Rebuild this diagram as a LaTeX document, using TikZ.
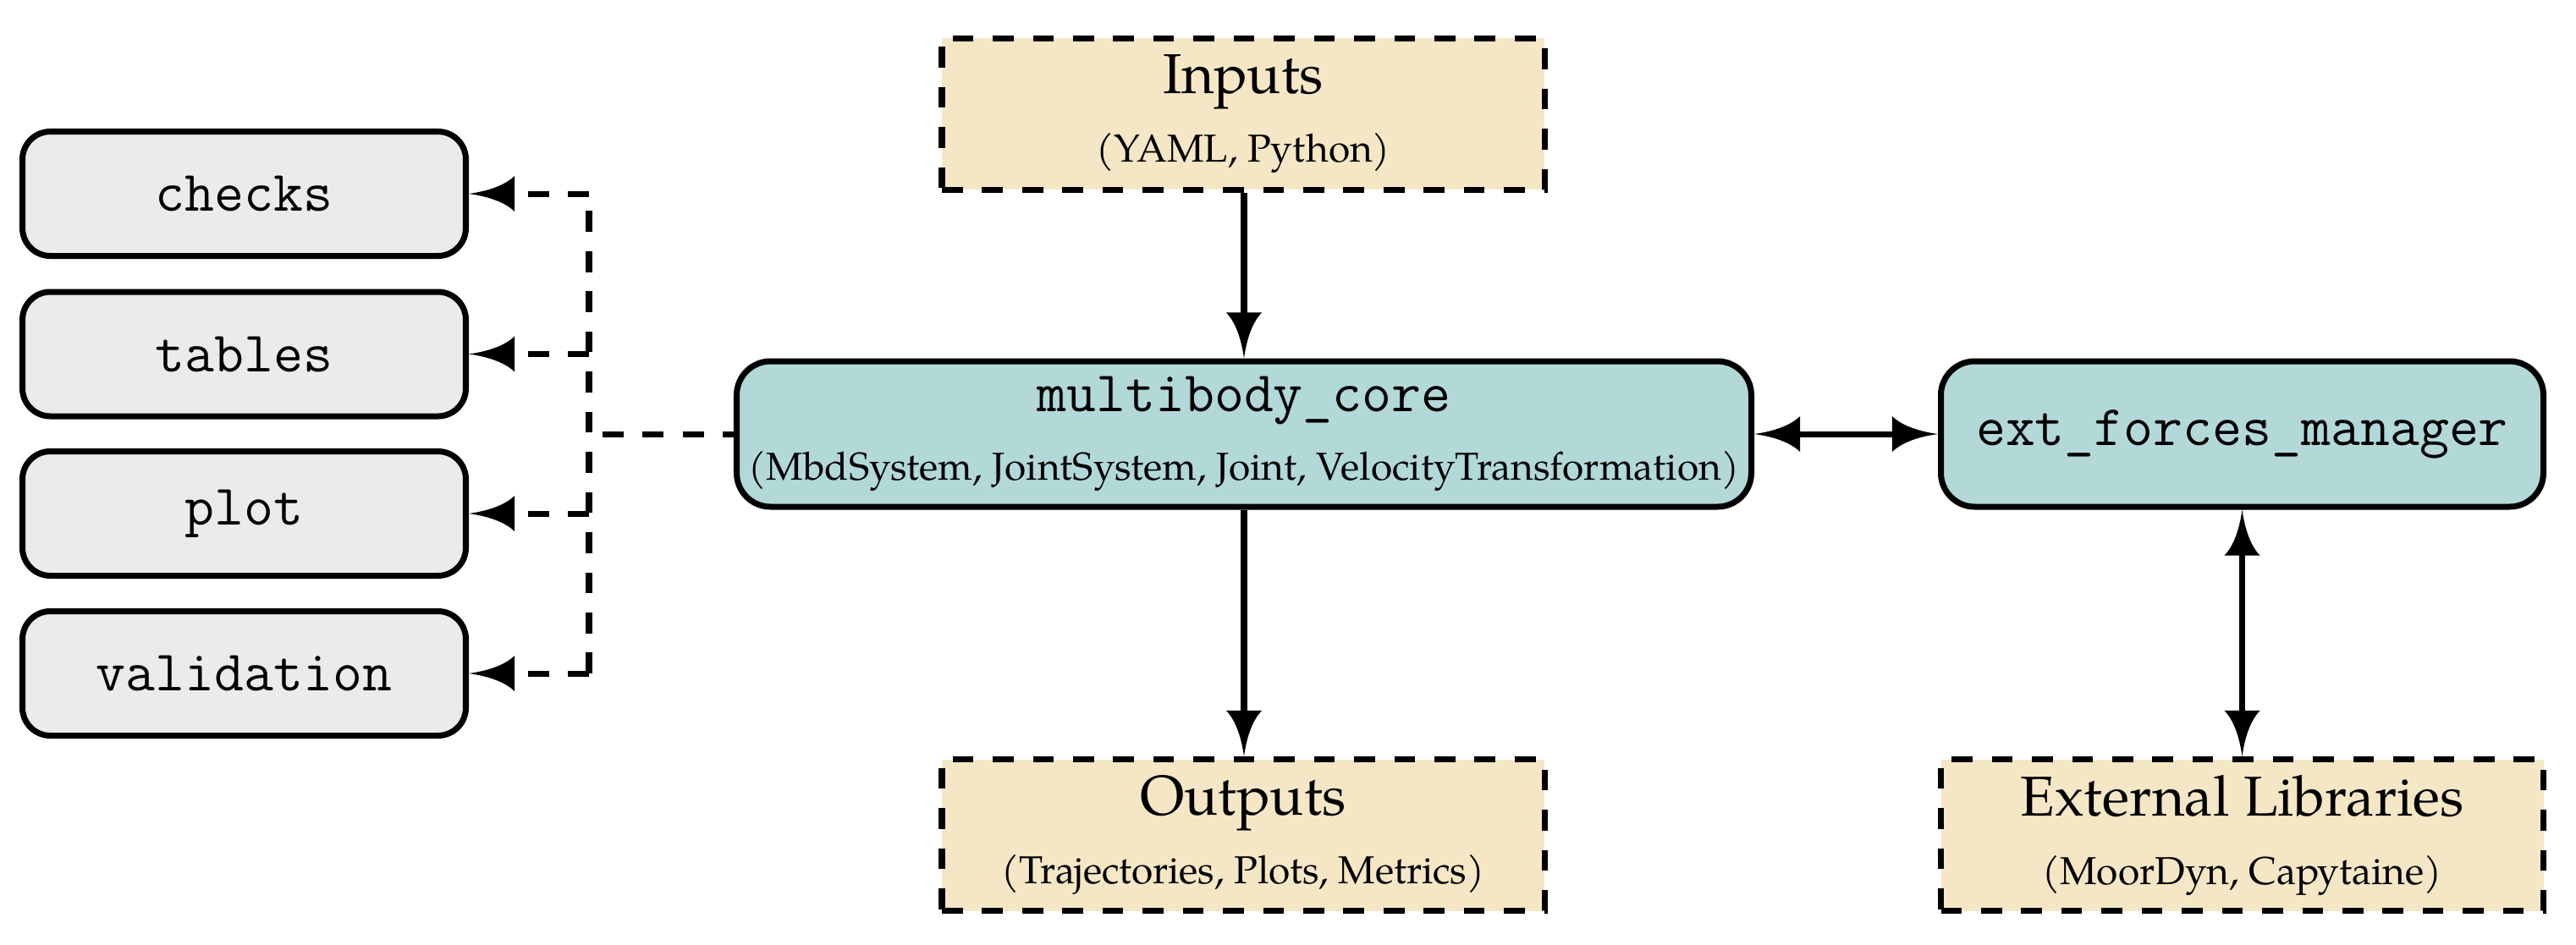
\documentclass[tikz,border=0pt]{standalone}
\usepackage{fontspec}
\setmainfont{TeX Gyre Pagella}
\usetikzlibrary{arrows.meta}
\definecolor{ioFill}{RGB}{245,231,197}
\definecolor{modFill}{RGB}{178,216,216}
\definecolor{toolFill}{RGB}{235,235,235}
\newcommand\mytitle{\fontsize{18.9}{23}\selectfont}
\newcommand\mysubtxt{\fontsize{13.1}{23}\selectfont}
\newcommand\mymono{\ttfamily\fontsize{19.3}{23}\selectfont}
\pgfdeclarearrow{
  name = Concave,
  parameters = {\the\pgfarrowlength,\the\pgfarrowwidth},
  setup code = {
    \pgfarrowssettipend{0pt}
    \pgfarrowssetbackend{-\pgfarrowlength}
    \pgfarrowssetlineend{-0.8\pgfarrowlength}
    \pgfarrowssavethe\pgfarrowlength
    \pgfarrowssavethe\pgfarrowwidth
  },
  drawing code = {
    \pgfpathmoveto{\pgfqpoint{0pt}{0pt}}
    \pgfpathcurveto{\pgfqpoint{-0.45\pgfarrowlength}{0.08\pgfarrowwidth}}{\pgfqpoint{-0.8\pgfarrowlength}{0.25\pgfarrowwidth}}{\pgfqpoint{-\pgfarrowlength}{0.5\pgfarrowwidth}}
    \pgfpathlineto{\pgfqpoint{-\pgfarrowlength}{-0.5\pgfarrowwidth}}
    \pgfpathcurveto{\pgfqpoint{-0.8\pgfarrowlength}{-0.25\pgfarrowwidth}}{\pgfqpoint{-0.45\pgfarrowlength}{-0.08\pgfarrowwidth}}{\pgfqpoint{0pt}{0pt}}
    \pgfpathclose
    \pgfusepathqfill
  },
  defaults = {length = 15.4pt, width = 12pt}
}
\begin{document}
\begin{tikzpicture}[
  line width=2pt,
  dashpat/.style={dash pattern=on 7pt off 6.5pt},
  iobox/.style={draw, dashpat, fill=ioFill, minimum width=7.12cm, minimum height=1.79cm, inner sep=0pt, align=center, font=\mysubtxt},
  modbox/.style={draw, rounded corners=0.4cm, fill=modFill, minimum height=1.72cm, inner sep=0pt, align=center, font=\mysubtxt},
  toolbox/.style={draw, rounded corners=0.33cm, fill=toolFill, minimum width=5.24cm, minimum height=1.47cm, inner sep=0pt, font=\mymono},
  conn/.style={-{Concave}},
  biconn/.style={{Concave}-{Concave}},
]
\useasboundingbox (0,0) rectangle (30.44,-11.16);

% central column
\node[iobox] (inputs) at (14.69,-1.345) {{\mytitle Inputs}\\(YAML, Python)};
\node[modbox, minimum width=11.99cm] (core) at (14.70,-5.13) {{\mymono multibody\_core}\\(MbdSystem, JointSystem, Joint, VelocityTransformation)};
\node[iobox] (outputs) at (14.69,-9.87) {{\mytitle Outputs}\\(Trajectories, Plots, Metrics)};

% right column
\node[modbox, minimum width=7.12cm] (ext) at (26.495,-5.13) {\mymono ext\_forces\_manager};
\node[iobox] (extlib) at (26.495,-9.87) {{\mytitle External Libraries}\\(MoorDyn, Capytaine)};

% left tools
\node[toolbox] (checks) at (2.885,-2.29) {checks};
\node[toolbox] (tables) at (2.885,-4.185) {tables};
\node[toolbox] (plot) at (2.885,-6.07) {plot};
\node[toolbox] (validation) at (2.885,-7.96) {validation};

% bus coordinates
\coordinate (b1) at (6.96,-2.29);
\coordinate (b2) at (6.96,-4.185);
\coordinate (b3) at (6.96,-6.07);
\coordinate (b4) at (6.96,-7.96);
\coordinate (bm) at (7.12,-5.13);

% connectors
\draw[conn] (inputs.south -| core.north) -- (core.north);
\draw[conn] (core.south) -- (outputs.north -| core.south);
\draw[biconn] (core.east) -- (ext.west);
\draw[biconn] (ext.south) -- (extlib.north);

\draw[dashpat] (b4) -- (b1);
\draw[dashpat] (bm) -- (core.west);
\draw[dashpat, conn] (b1) -- (checks.east);
\draw[dashpat, conn] (b2) -- (tables.east);
\draw[dashpat, conn] (b3) -- (plot.east);
\draw[dashpat, conn] (b4) -- (validation.east);
\end{tikzpicture}
\end{document}
